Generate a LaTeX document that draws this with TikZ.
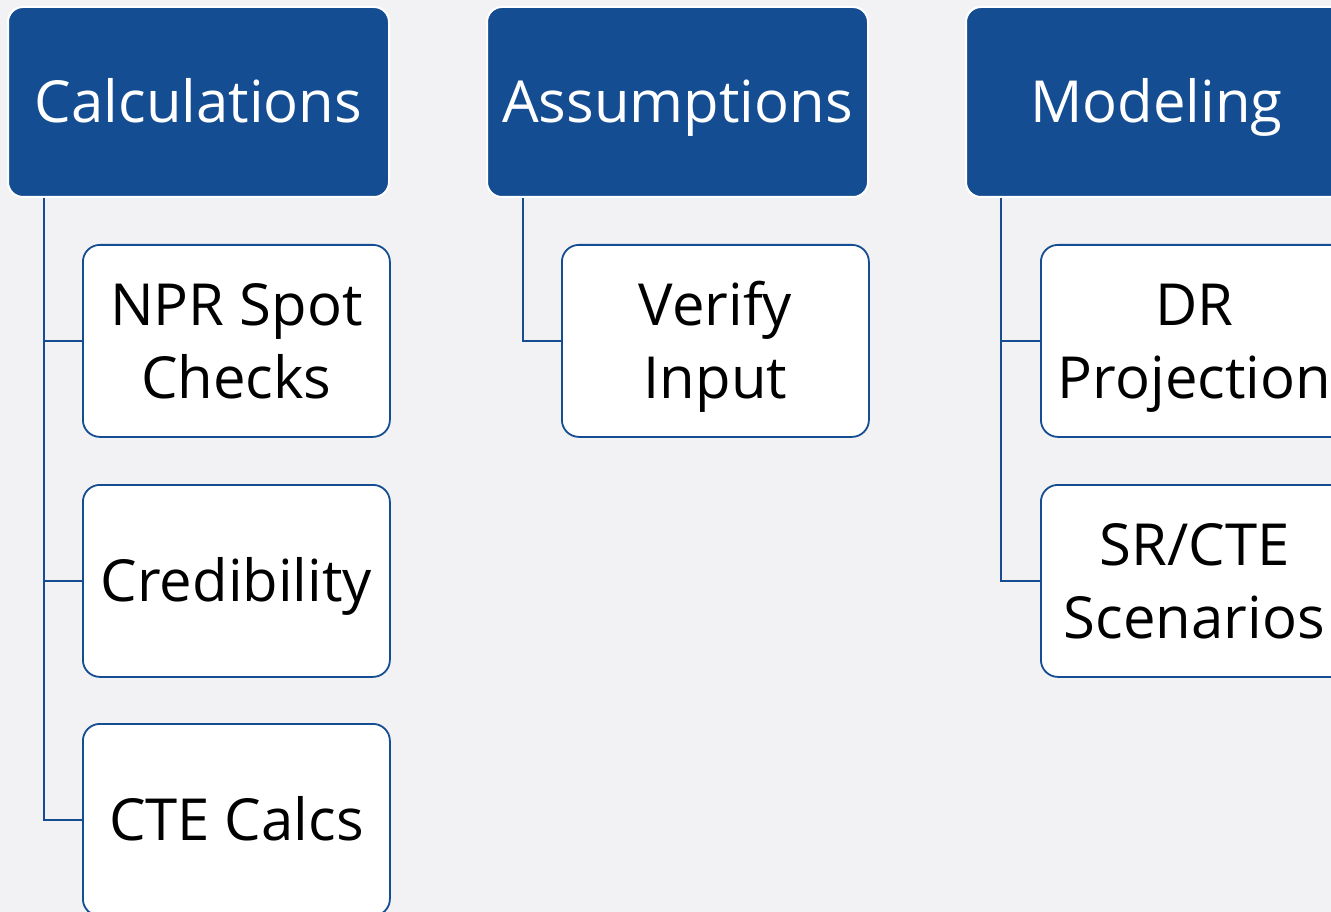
\documentclass[tikz,border=0pt]{standalone}
\usepackage{fontspec}
\setmainfont{Open Sans}
\definecolor{pagebg}{HTML}{F2F2F4}
\definecolor{headblue}{HTML}{154D92}
\begin{document}
\begin{tikzpicture}[x=1pt,y=-1pt,
  head/.style={rectangle, rounded corners=15pt, fill=headblue, draw=white,
    line width=2pt, minimum width=381pt, minimum height=190pt, inner sep=0pt,
    anchor=north west, text=white, font=\fontsize{58}{73}\selectfont,
    text height=42pt, text depth=0pt},
  leaf/.style={rectangle, rounded corners=17pt, fill=white, draw=headblue,
    line width=1.8pt, minimum width=307pt, minimum height=192pt, inner sep=0pt,
    anchor=north west, text=black, align=center,
    font=\fontsize{58}{73}\selectfont, text height=42pt, text depth=0pt},
  leaftwo/.style={leaf, text height=115pt},
  link/.style={draw=headblue, line width=2pt}]
\clip (0,0) rectangle (1331,912);
\fill[pagebg] (0,0) rectangle (1331,912);

% column headers
\node[head] (calc) at (7,6) {Calculations};
\node[head] (assu) at (486,6) {Assumptions};
\node[head] (mode) at (965,6) {Modeling};

% children
\node[leaftwo] (npr)  at (82,244)  {NPR Spot\\Checks};
\node[leaf]    (cred) at (82,484)  {Credibility};
\node[leaf]    (cte)  at (82,723)  {CTE Calcs};
\node[leaftwo] (ver)  at (561,244) {Verify\\Input};
\node[leaftwo] (dr)   at (1040,244) {DR\\Projection};
\node[leaftwo] (sr)   at (1040,484) {SR/CTE\\Scenarios};

% tree connectors
\draw[link] ([xshift=37pt]calc.south west) |- (npr.west);
\draw[link] ([xshift=37pt]calc.south west) |- (cred.west);
\draw[link] ([xshift=37pt]calc.south west) |- (cte.west);
\draw[link] ([xshift=37pt]assu.south west) |- (ver.west);
\draw[link] ([xshift=36pt]mode.south west) |- (dr.west);
\draw[link] ([xshift=36pt]mode.south west) |- (sr.west);
\end{tikzpicture}
\end{document}
